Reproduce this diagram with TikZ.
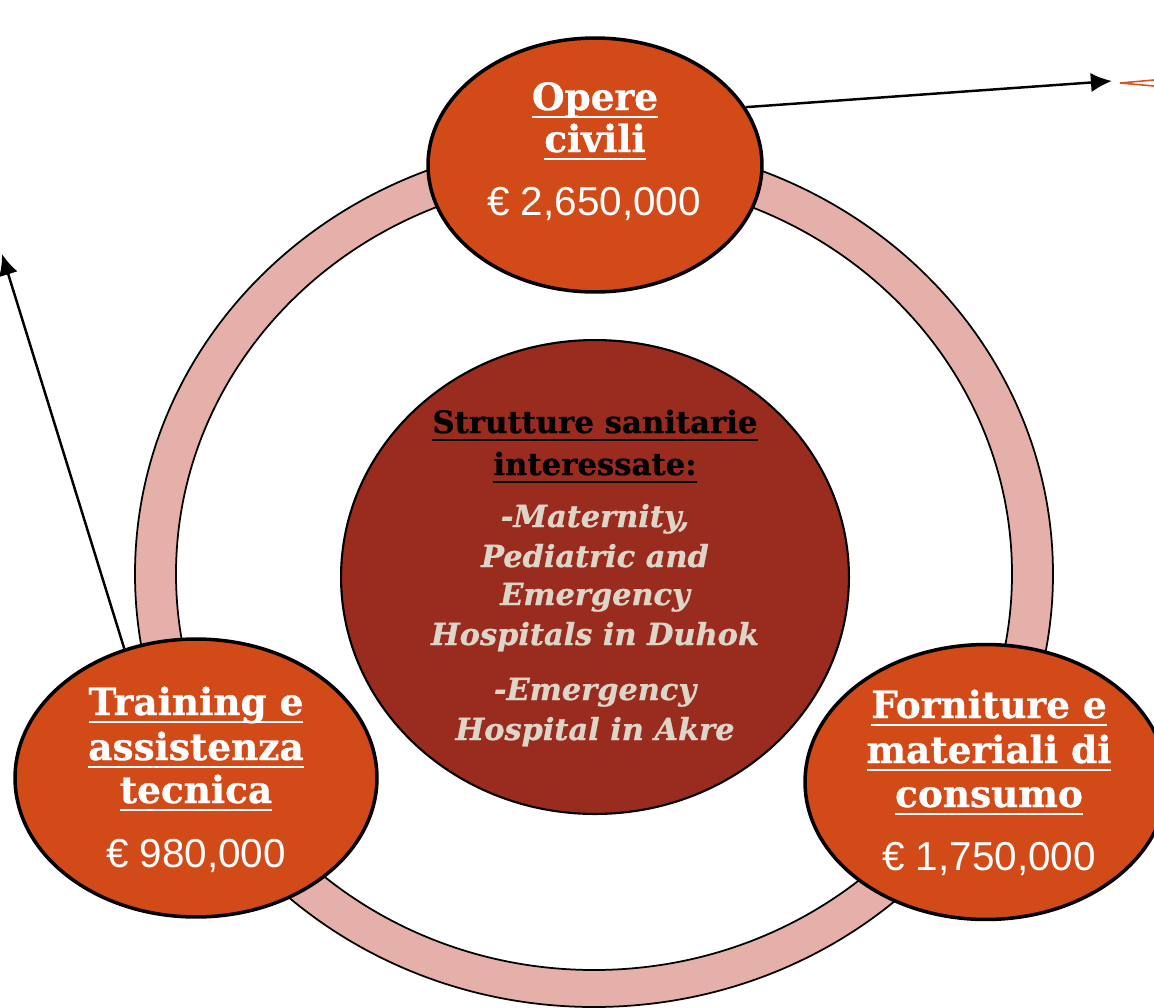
\documentclass[tikz,border=0pt]{standalone}
\usepackage{fontspec}
\setmainfont{DejaVu Serif}[BoldFeatures={FakeBold=0.8},BoldItalicFeatures={FakeBold=0.8}]
\newfontfamily\moneyfont{Liberation Sans}
\usetikzlibrary{shapes.geometric,arrows.meta}

\definecolor{bubbleorange}{HTML}{D24A18}
\definecolor{corered}{HTML}{9A2C1F}
\definecolor{ringpink}{HTML}{E6B0AA}
\definecolor{paletext}{HTML}{DDD5C8}
\definecolor{markorange}{HTML}{D9531E}

% underline a whole line with a heavier bar
\newcommand\ulbar[1]{\leavevmode\setbox0\hbox{#1}\rlap{\rule[-4.8pt]{\wd0}{1.5pt}}\box0}

\tikzset{
  bubble/.style={ellipse, draw=black, line width=2pt, fill=bubbleorange, inner sep=0pt,
    minimum width=7.24cm, minimum height=5.56cm},
  core/.style={ellipse, draw=black, line width=1.2pt, fill=corered, inner sep=0pt,
    minimum width=10.16cm, minimum height=9.48cm},
  headline/.style={anchor=base, text=white, inner sep=0pt, font=\fontsize{21.3}{25}\selectfont\bfseries},
  sumline/.style={anchor=base, text=white, inner sep=0pt, font=\fontsize{23}{26}\selectfont\moneyfont},
  coreline/.style={anchor=base, text=black, inner sep=0pt, font=\fontsize{17.5}{22}\selectfont\bfseries},
  placeline/.style={anchor=base, text=paletext, inner sep=0pt, font=\fontsize{17.3}{22}\selectfont\bfseries\itshape},
  link/.style={-{Latex[length=12pt,width=11pt]}, line width=1.4pt},
}

\begin{document}
\begin{tikzpicture}[x=0.02cm,y=-0.02cm]
\useasboundingbox (0,0) rectangle (1154,1008);
\clip (0,0) rectangle (1154,1008);

% ring behind everything
\draw[fill=ringpink, even odd rule, line width=1pt]
  (594,574) ellipse [x radius=459, y radius=433]
  (594,574) ellipse [x radius=418, y radius=396];

% middle disc
\node[core] (core) at (595,577) {};
\foreach \txt/\yy [count=\i] in {Strutture sanitarie/433, interessate:/475}
  \node[coreline] (core-\i) at (595,\yy) {\ulbar{\txt}};
\foreach \txt/\yy [count=\i] in {{-Maternity,}/527, Pediatric and/567, Emergency/605,
    Hospitals in Duhok/645, -Emergency/700, Hospital in Akre/740}
  \node[placeline] (place-\i) at (595,\yy) {\txt};

% the three budget items
\node[bubble, minimum width=6.68cm, minimum height=5.08cm] (opere) at (595,165) {};
\foreach \txt/\yy [count=\i] in {Opere/110, civili/152}
  \node[headline] (opere-\i) at (595,\yy) {\ulbar{\txt}};
\node[sumline] (opere-sum) at (594,215) {€ 2,650,000};

\node[bubble] (training) at (196,778) {};
\foreach \txt/\yy [count=\i] in {Training e/715, assistenza/760, tecnica/803}
  \node[headline] (training-\i) at (196,\yy) {\ulbar{\txt}};
\node[sumline] (training-sum) at (196,867) {€ 980,000};

\node[bubble, minimum height=5.5cm] (forniture) at (986,782) {};
\foreach \txt/\yy [count=\i] in {Forniture e/718, materiali di/763, consumo/807}
  \node[headline] (forniture-\i) at (989,\yy) {\ulbar{\txt}};
\node[sumline] (forniture-sum) at (989,870) {€ 1,750,000};

% arrows leaving the picture
\coordinate (far right) at (1112,81);
\coordinate (far left) at (2,254);
\draw[link] (opere.21) -- (far right);
\draw[link] (training.119) -- (far left);

% edge of a shape cut off on the right
\draw[markorange, line width=0.9pt] (1154,80) -- (1120,83) -- (1154,86);

\end{tikzpicture}
\end{document}
